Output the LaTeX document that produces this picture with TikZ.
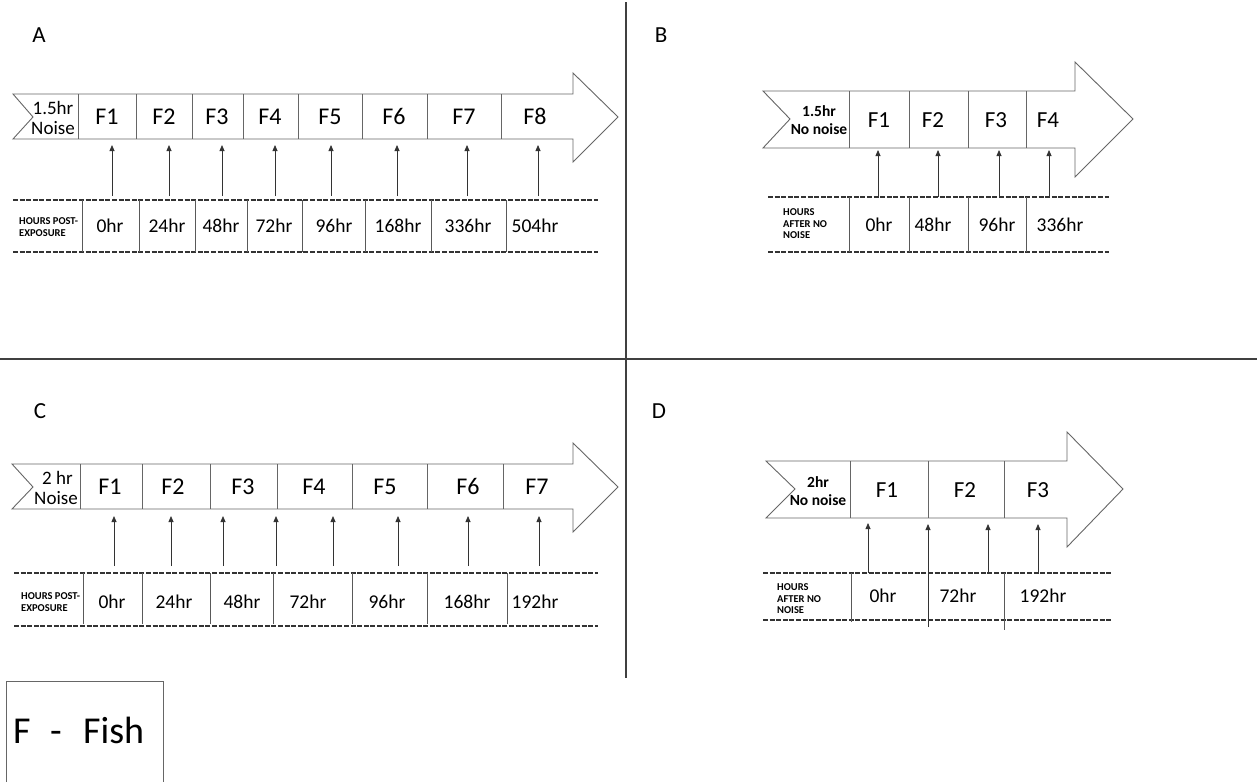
\documentclass[tikz,border=0pt]{standalone}
\usepackage{fontspec}
\setmainfont{Carlito}
\usetikzlibrary{arrows.meta}
\begin{document}
\begin{tikzpicture}[x=1pt,y=-1pt,
  outline/.style={draw=black!60, line width=0.9pt, fill=white, line join=miter},
  cellline/.style={draw=black!60, line width=0.9pt},
  dashline/.style={draw=black!80, line width=1.3pt, dash pattern=on 5pt off 1.6pt},
  tabline/.style={draw=black!65, line width=0.9pt},
  uparrow/.style={draw=black!80, line width=0.8pt, -{Triangle[length=6pt,width=5pt]}},
  divider/.style={draw=black!75, line width=1.6pt},
  txt/.style={inner sep=0pt, text height=1.45ex, text depth=0.1ex, yshift=-4pt},
  panellabel/.style={txt, font=\fontsize{23}{25}\selectfont},
  fishA/.style={txt, font=\fontsize{24}{26}\selectfont},
  fishB/.style={txt, font=\fontsize{23}{25}\selectfont},
  startA/.style={font=\fontsize{19}{20}\selectfont, inner sep=0pt, align=center},
  startB/.style={font=\bfseries\fontsize{15.5}{17.5}\selectfont, inner sep=0pt, align=center},
  hourlab/.style={font=\bfseries\fontsize{10.5}{12}\selectfont, inner sep=0pt, align=left, anchor=west},
  hourlabB/.style={hourlab, font=\bfseries\fontsize{10.5}{11.5}\selectfont},
  timeA/.style={txt, yshift=1pt, font=\fontsize{19.5}{21}\selectfont},
  legend/.style={font=\fontsize{38}{40}\selectfont, inner sep=0pt, anchor=base west}
]
\useasboundingbox (0,0) rectangle (1257,782);

% quadrant dividers
\draw[divider] (626,2) -- (626,678);
\draw[divider] (0,359) -- (1257,359);

% panel letters
\node[panellabel] (labA) at (39,35) {A};
\node[panellabel] (labB) at (661,35) {B};
\node[panellabel] (labC) at (40,411) {C};
\node[panellabel] (labD) at (659,411) {D};

% ---------------- Panel A ----------------
\draw[outline] (13,94) -- (573,94) -- (573,73) -- (618,117) -- (573,162) -- (573,139)
  -- (13,139) -- (33,117) -- cycle;
\foreach \x in {78,136,192,243,298,362,427,501}
  \draw[cellline] (\x,94) -- (\x,139);
\node[startA] (A-start) at (53,118) {1.5hr\\Noise};
\foreach \i/\x in {1/107,2/164,3/217,4/270,5/330,6/394,7/464,8/535}
  \node[fishA] (A-F\i) at (\x,117) {F\i};

\draw[dashline] (13,200) -- (598,200);
\draw[dashline] (13,252) -- (598,252);
\foreach \x in {82,139,195,247,302,365,431,506}
  \draw[tabline] (\x,200) -- (\x,252);
\node[hourlab] (A-hours) at (19,227) {HOURS POST-\\EXPOSURE};
\foreach \i/\x/\t in {1/110/0hr,2/167/24hr,3/221/48hr,4/274/72hr,5/334/96hr,6/398/168hr,7/468/336hr,8/535/504hr}
  \node[timeA] (A-T\i) at (\x,226) {\t};
\foreach \i/\x in {1/112,2/169,3/222,4/275,5/331,6/397,7/467,8/538}{
  \coordinate (A-s\i) at (\x,196);
  \coordinate (A-e\i) at (\x,145);
  \draw[uparrow] (A-s\i) -- (A-e\i);
}

% ---------------- Panel B ----------------
\draw[outline] (763,91) -- (1075,91) -- (1075,62) -- (1133,119) -- (1075,177) -- (1075,148)
  -- (763,148) -- (790,119) -- cycle;
\foreach \x in {849,909,968,1026}
  \draw[cellline] (\x,91) -- (\x,148);
\node[startB] (B-start) at (819,120) {1.5hr\\No noise};
\foreach \i/\x in {1/879,2/933,3/996,4/1048}
  \node[fishB] (B-F\i) at (\x,120) {F\i};

\draw[dashline] (768,197) -- (1109,197);
\draw[dashline] (768,252) -- (1109,252);
\foreach \x in {849,909,968,1026}
  \draw[tabline] (\x,197) -- (\x,252);
\node[hourlabB] (B-hours) at (783,224) {HOURS\\AFTER NO\\NOISE};
\foreach \i/\x/\t in {1/879/0hr,2/933/48hr,3/997/96hr,4/1060/336hr}
  \node[timeA] (B-T\i) at (\x,225) {\t};
\foreach \i/\x in {1/878,2/938,3/999,4/1049}{
  \coordinate (B-s\i) at (\x,197);
  \coordinate (B-e\i) at (\x,150);
  \draw[uparrow] (B-s\i) -- (B-e\i);
}

% ---------------- Panel C ----------------
\draw[outline] (12,464) -- (573,464) -- (573,443) -- (618,487) -- (573,532) -- (573,509)
  -- (12,509) -- (33,487) -- cycle;
\foreach \x in {80,142,210,277,352,427,503}
  \draw[cellline] (\x,464) -- (\x,509);
\node[startA] (C-start) at (56,488) {\hspace*{3pt}2 hr\\Noise};
\foreach \i/\x in {1/110,2/173,3/243,4/314,5/385,6/468,7/537}
  \node[fishA] (C-F\i) at (\x,487) {F\i};

\draw[dashline] (14,573) -- (598,573);
\draw[dashline] (14,626) -- (598,626);
\foreach \x in {83,142,210,273,352,427,507}
  \draw[tabline] (\x,573) -- (\x,624);
\node[hourlab] (C-hours) at (21,602) {HOURS POST-\\EXPOSURE};
\foreach \i/\x/\t in {1/112/0hr,2/174/24hr,3/242/48hr,4/308/72hr,5/387/96hr,6/467/168hr,7/535/192hr}
  \node[timeA] (C-T\i) at (\x,602) {\t};
\foreach \i/\x in {1/114,2/171,3/223,4/276,5/333,6/398,7/468,8/539}{
  \coordinate (C-s\i) at (\x,566);
  \coordinate (C-e\i) at (\x,516);
  \draw[uparrow] (C-s\i) -- (C-e\i);
}

% ---------------- Panel D ----------------
\draw[outline] (766,461) -- (1067,461) -- (1067,432) -- (1123,489) -- (1067,547) -- (1067,518)
  -- (766,518) -- (795,489) -- cycle;
\foreach \x in {850,928,1004}
  \draw[cellline] (\x,461) -- (\x,518);
\node[startB] (D-start) at (818,491) {2hr\\No noise};
\foreach \i/\x in {1/887,2/965,3/1038}
  \node[fishB] (D-F\i) at (\x,490) {F\i};

\draw[dashline] (763,573) -- (1112,573);
\draw[dashline] (763,620) -- (1112,620);
\draw[tabline] (851,573) -- (851,622);
\draw[tabline] (1004,573) -- (1004,630);
\node[hourlabB] (D-hours) at (777,599) {HOURS\\AFTER NO\\NOISE};
\foreach \i/\x/\t in {1/883/0hr,2/958/72hr,3/1043/192hr}
  \node[timeA] (D-T\i) at (\x,596) {\t};
\coordinate (D-s1) at (868,573);  \coordinate (D-e1) at (868,523);
\coordinate (D-s2) at (928,627);  \coordinate (D-e2) at (928,524);
\coordinate (D-s3) at (988,573);  \coordinate (D-e3) at (988,524);
\coordinate (D-s4) at (1038,573); \coordinate (D-e4) at (1038,524);
\foreach \i in {1,2,3,4}
  \draw[uparrow] (D-s\i) -- (D-e\i);

% ---------------- Legend ----------------
\draw[cellline] (6,782) -- (6,681) -- (163,681) -- (163,782);
\node[legend] (leg-F) at (13,743) {F};
\node[legend] (leg-dash) at (50,743) {-};
\node[legend] (leg-fish) at (83,743) {Fish};
\end{tikzpicture}
\end{document}
